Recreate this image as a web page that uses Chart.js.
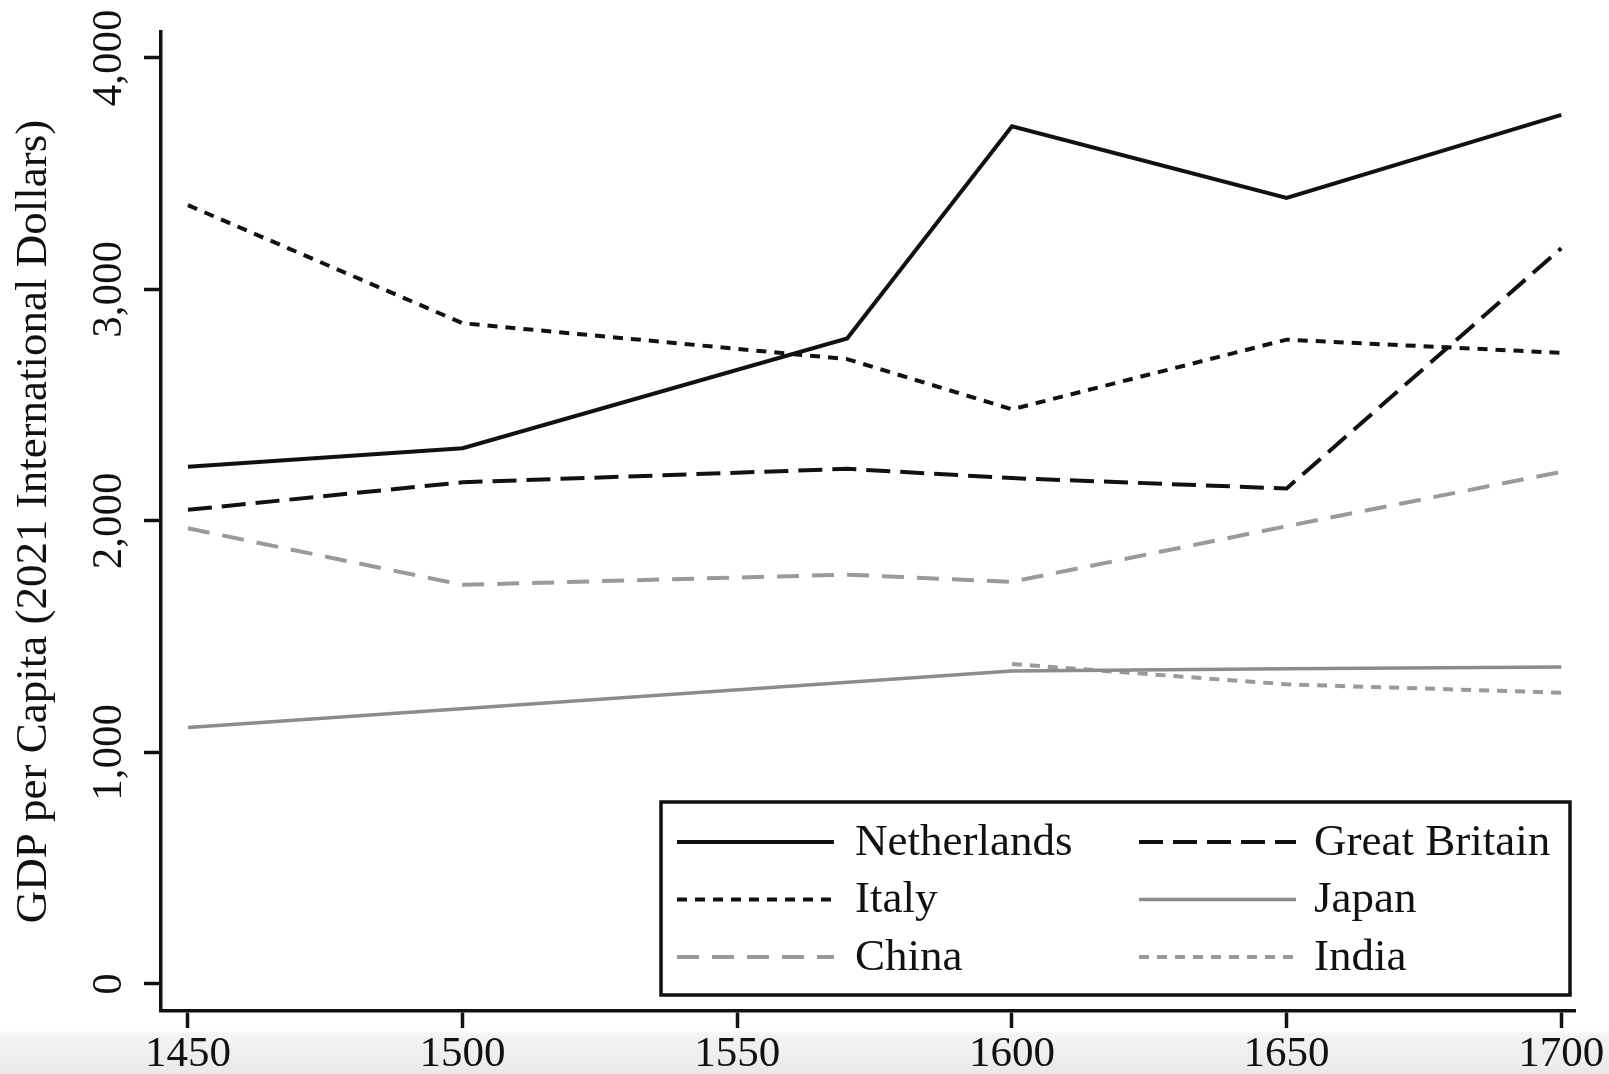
<!DOCTYPE html>
<html>
<head>
<meta charset="utf-8">
<title>GDP per Capita 1450-1700</title>
<script src="https://cdn.jsdelivr.net/npm/chart.js@4.4.1/dist/chart.umd.min.js"></script>
<style>
    html, body { margin: 0; padding: 0; }
    body {
        width: 1609px;
        height: 1074px;
        overflow: hidden;
        background: linear-gradient(to bottom, #ffffff 0px, #ffffff 1030px, #f4f4f4 1034px, #e9e9e9 1074px);
    }
    #wrap { position: relative; width: 1609px; height: 1074px; }
</style>
</head>
<body>
<div id="wrap"><canvas id="gdpChart"></canvas></div>
<script>
// values (2021 international dollars)
const years = [1450, 1500, 1570, 1600, 1650, 1700];
const netherlands = [2234, 2314, 2788, 3705, 3395, 3754];
const greatBritain = [2048, 2167, 2225, 2185, 2140, 3178];
const italy = [3364, 2854, 2699, 2482, 2783, 2726];
const china = [1968, 1724, 1768, 1737, 1977, 2212];
const japanYears = [1450, 1600, 1650, 1700];
const japan = [1108, 1352, 1361, 1369];
const indiaYears = [1600, 1650, 1700];
const india = [1382, 1294, 1258];

const xTicks = [1450, 1500, 1550, 1600, 1650, 1700];
const yTicks = [0, 1000, 2000, 3000, 4000];

const serif = '"Liberation Serif", "Times New Roman", serif';
Chart.defaults.font.family = serif;
Chart.defaults.color = '#111';

function toPoints(xs, ys) {
    return xs.map((x, i) => ({ x: x, y: ys[i] }));
}

function series(label, xs, ys, color, dash, width) {
    return {
        label: label,
        data: toPoints(xs, ys),
        borderColor: color,
        backgroundColor: color,
        borderDash: dash,
        borderWidth: width,
        borderCapStyle: 'butt',
        pointRadius: 0,
        tension: 0,
        fill: false
    };
}

// legend box drawn inside the plot, 2 columns x 3 rows
const boxLegend = {
    id: 'boxLegend',
    afterDatasetsDraw(chart) {
        const ctx = chart.ctx;
        const area = chart.chartArea;
        const right = area.right - 5;
        const bottom = area.bottom - 16;
        const left = right - 909;
        const top = bottom - 193;

        ctx.save();
        ctx.fillStyle = '#fff';
        ctx.fillRect(left, top, right - left, bottom - top);
        ctx.lineWidth = 3.5;
        ctx.strokeStyle = '#111';
        ctx.setLineDash([]);
        ctx.strokeRect(left, top, right - left, bottom - top);

        const lineX = [16, 478];
        const textX = [194, 653];
        ctx.font = '45px ' + serif;
        ctx.textBaseline = 'middle';
        ctx.textAlign = 'left';

        chart.data.datasets.forEach((ds, i) => {
            const row = Math.floor(i / 2);
            const col = i % 2;
            const y = top + 40 + row * 57.5;
            ctx.beginPath();
            ctx.lineWidth = ds.borderWidth;
            ctx.strokeStyle = ds.borderColor;
            ctx.setLineDash(ds.borderDash);
            ctx.moveTo(left + lineX[col], y);
            ctx.lineTo(left + lineX[col] + 157, y);
            ctx.stroke();
            ctx.setLineDash([]);
            ctx.fillStyle = '#111';
            ctx.fillText(ds.label, left + textX[col], y + 1);
        });
        ctx.restore();
    }
};

const axisGrid = {
    display: true,
    drawOnChartArea: false,
    drawTicks: true,
    tickLength: 17,
    tickWidth: 3.5,
    tickColor: '#111'
};

new Chart(document.getElementById('gdpChart'), {
    type: 'line',
    data: {
        datasets: [
            series('Netherlands', years, netherlands, '#111', [], 4),
            series('Great Britain', years, greatBritain, '#111', [24, 10], 4),
            series('Italy', years, italy, '#111', [10, 8], 4),
            series('Japan', japanYears, japan, '#8c8c8c', [], 3.5),
            series('China', years, china, '#9a9a9a', [22, 13], 4),
            series('India', indiaYears, india, '#9a9a9a', [10, 8], 4)
        ]
    },
    options: {
        responsive: true,
        maintainAspectRatio: false,
        animation: false,
        events: [],
        layout: { padding: { top: 32, right: 34, left: 0, bottom: 0 } },
        plugins: {
            legend: { display: false },
            tooltip: { enabled: false }
        },
        scales: {
            x: {
                type: 'linear',
                min: 1445.1,
                max: 1702.5,
                afterBuildTicks: s => { s.ticks = xTicks.map(v => ({ value: v })); },
                afterFit: s => { s.height = 63; },
                grid: axisGrid,
                border: { display: true, color: '#111', width: 3.5 },
                ticks: {
                    font: { size: 43 },
                    color: '#111',
                    padding: 1,
                    maxRotation: 0,
                    autoSkip: false,
                    callback: v => String(v)
                }
            },
            y: {
                type: 'linear',
                min: -117,
                max: 4112,
                afterBuildTicks: s => { s.ticks = yTicks.map(v => ({ value: v })); },
                afterFit: s => { s.width = 161; },
                grid: axisGrid,
                border: { display: true, color: '#111', width: 3.5 },
                ticks: {
                    font: { size: 43 },
                    color: '#111',
                    minRotation: 90,
                    maxRotation: 90,
                    crossAlign: 'center',
                    padding: -14,
                    autoSkip: false,
                    callback: v => v.toLocaleString('en-US')
                },
                title: {
                    display: true,
                    text: 'GDP per Capita (2021 International Dollars)',
                    font: { size: 45 },
                    color: '#111',
                    padding: { top: 7, bottom: 0 }
                }
            }
        }
    },
    plugins: [boxLegend]
});
</script>
</body>
</html>
